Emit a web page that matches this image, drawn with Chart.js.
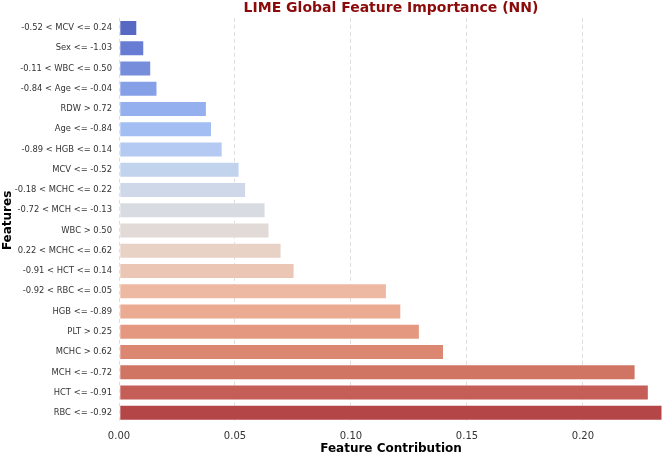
<!DOCTYPE html>
<html>
<head>
<meta charset="utf-8">
<script src="https://cdn.jsdelivr.net/npm/chart.js@4.4.0/dist/chart.umd.min.js"></script>
<style>
    html, body { margin: 0; padding: 0; background: #ffffff; }
    #wrap { width: 666px; height: 456px; }
</style>
</head>
<body>
<div id="wrap"><canvas id="chart"></canvas></div>
<script>
// LIME feature rules, top to bottom
const FEATURES = [
    '-0.52 < MCV <= 0.24',
    'Sex <= -1.03',
    '-0.11 < WBC <= 0.50',
    '-0.84 < Age <= -0.04',
    'RDW > 0.72',
    'Age <= -0.84',
    '-0.89 < HGB <= 0.14',
    'MCV <= -0.52',
    '-0.18 < MCHC <= 0.22',
    '-0.72 < MCH <= -0.13',
    'WBC > 0.50',
    '0.22 < MCHC <= 0.62',
    '-0.91 < HCT <= 0.14',
    '-0.92 < RBC <= 0.05',
    'HGB <= -0.89',
    'PLT > 0.25',
    'MCHC > 0.62',
    'MCH <= -0.72',
    'HCT <= -0.91',
    'RBC <= -0.92',
];

const CONTRIBUTION = [
    0.0078, 0.0108, 0.0138, 0.0165, 0.0378,
    0.0400, 0.0446, 0.0519, 0.0547, 0.0631,
    0.0648, 0.0700, 0.0756, 0.1154, 0.1216,
    0.1296, 0.1400, 0.2226, 0.2283, 0.2342,
];

const X_TICKS = [0, 0.05, 0.10, 0.15, 0.20];

// coolwarm-ish palette, blue -> red
const BAR_COLORS = [
    '#5869c4', '#677cd2', '#768ddc', '#86a0e8', '#94b0ee',
    '#a2bef2', '#b4caf3', '#c2d3ee', '#cfd8e8', '#d8dce2',
    '#e1dad6', '#e8d2c6', '#ecc6b4', '#edb9a2', '#ebaa92',
    '#e59880', '#db8772', '#d07464', '#c45e56', '#b44648',
];

const TEXT = '#333333';
const FONT = "'DejaVu Sans', sans-serif";

new Chart(document.getElementById('chart'), {
    type: 'bar',
    data: {
        labels: FEATURES,
        datasets: [{
            data: CONTRIBUTION,
            backgroundColor: BAR_COLORS,
            borderColor: 'rgba(255,255,255,0.5)',
            borderWidth: 0.8,
            borderSkipped: false,
            categoryPercentage: 1.0,
            barPercentage: 0.77,
        }],
    },
    options: {
        indexAxis: 'y',
        responsive: true,
        maintainAspectRatio: false,
        animation: false,
        layout: { padding: { top: 0, right: 3, bottom: 0, left: 0 } },
        plugins: {
            legend: { display: false },
            tooltip: { enabled: false },
            title: {
                display: true,
                text: 'LIME Global Feature Importance (NN)',
                color: '#8b0a0a',
                fullSize: false,
                font: { family: FONT, size: 14, weight: 'bold' },
                padding: { top: 0, bottom: 1 },
            },
        },
        scales: {
            x: {
                min: 0,
                max: 0.2345,
                afterBuildTicks: function(scale) {
                    scale.ticks = X_TICKS.map(function(v) { return { value: v }; });
                },
                afterFit: function(scale) { scale.height = 33; },
                border: { display: false, dash: [4, 3] },
                grid: { color: '#dedede', lineWidth: 1, drawTicks: false },
                ticks: {
                    color: TEXT,
                    padding: 7,
                    font: { family: FONT, size: 10 },
                    callback: function(v) { return Number(v).toFixed(2); },
                },
                title: {
                    display: true,
                    text: 'Feature Contribution',
                    color: '#000000',
                    font: { family: FONT, size: 12, weight: 'bold' },
                    padding: { top: 0, bottom: 0 },
                },
            },
            y: {
                afterFit: function(scale) { scale.width = 119; },
                border: { display: false },
                grid: { display: false, drawTicks: false },
                ticks: {
                    color: TEXT,
                    padding: 7,
                    autoSkip: false,
                    font: { family: FONT, size: 8.4 },
                },
                title: {
                    display: true,
                    text: 'Features',
                    color: '#000000',
                    font: { family: FONT, size: 12, weight: 'bold' },
                    padding: { top: 1, bottom: 0 },
                },
            },
        },
    },
});
</script>
</body>
</html>
